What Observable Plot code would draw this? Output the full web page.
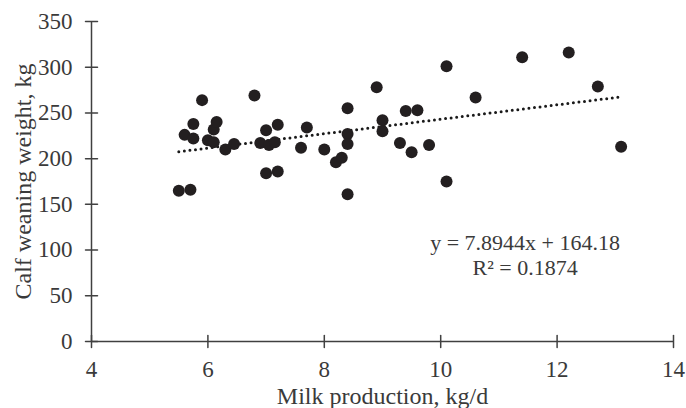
<!DOCTYPE html>
<html><head><meta charset="utf-8">
<script src="https://cdn.jsdelivr.net/npm/d3@7"></script>
<script src="https://cdn.jsdelivr.net/npm/@observablehq/plot@0.6"></script>
<style>
body{margin:0;background:#fff;}
#chart svg{overflow:visible;font-family:"Liberation Serif","Times New Roman",serif;}
</style>
</head><body><div id="chart"></div>
<script>
// Milk production (kg/d) and calf weaning weight (kg)
const milk = [5.5, 5.7, 5.6, 5.75, 5.75, 5.9, 6.0, 6.1, 6.15, 6.1, 6.3, 6.45,
  6.8, 6.9, 7.0, 7.05, 7.15, 7.2, 7.0, 7.2, 7.6, 7.7, 8.0, 8.2, 8.3,
  8.4, 8.4, 8.4, 8.4, 8.9, 9.0, 9.0, 9.3, 9.4, 9.6, 9.5, 9.8,
  10.1, 10.1, 10.6, 11.4, 12.2, 12.7, 13.1];
const weight = [165, 166, 226, 238, 222, 264, 220, 232, 240, 218, 210, 216,
  269, 217, 231, 215, 218, 237, 184, 186, 212, 234, 210, 196, 201,
  255, 227, 216, 161, 278, 242, 230, 217, 252, 253, 207, 215,
  301, 175, 267, 311, 316, 279, 213];
const xTicks = [4, 6, 8, 10, 12, 14];
const yTicks = [0, 50, 100, 150, 200, 250, 300, 350];
const slope = 7.8944, intercept = 164.18;
const eqLines = ["y = 7.8944x + 164.18", "R² = 0.1874"];
const xTitle = "Milk production, kg/d";
const yTitle = "Calf weaning weight, kg";

const data = milk.map((x, i) => ({x, y: weight[i]}));
const trend = d3.extent(milk).map(x => ({x, y: slope * x + intercept}));

const axisColor = "#404040";
const textColor = "#3a3a3a";

const chart = Plot.plot({
  width: 686,
  height: 408,
  marginLeft: 91,
  marginRight: 13,
  marginTop: 21,
  marginBottom: 67,
  style: {fontFamily: "'Liberation Serif', 'Times New Roman', serif", fontSize: "22px", color: textColor, background: "#fff"},
  x: {domain: [4, 14], ticks: xTicks},
  y: {domain: [0, 350], ticks: yTicks},
  marks: [
    Plot.ruleX([4], {stroke: axisColor, strokeWidth: 1.5}),
    Plot.ruleY([0], {stroke: axisColor, strokeWidth: 1.5}),
    Plot.vector(yTicks, {x: 4, y: d => d, length: 12, rotate: 90, anchor: "middle", stroke: axisColor, strokeWidth: 1.5, shape: {draw(c, l) { c.moveTo(0, 0); c.lineTo(0, -l); }}}),
    Plot.vector(xTicks, {x: d => d, y: 0, length: 12, rotate: 0, anchor: "middle", stroke: axisColor, strokeWidth: 1.5, shape: {draw(c, l) { c.moveTo(0, 0); c.lineTo(0, -l); }}}),
    Plot.axisX({ticks: xTicks, tickSize: 0, tickPadding: 19, fontSize: 23, fill: textColor,
      label: xTitle, labelAnchor: "center", labelArrow: "none", labelOffset: 62, labelFontSize: 24}),
    Plot.axisY({ticks: yTicks, tickSize: 0, tickPadding: 19, fontSize: 23, fill: textColor,
      label: yTitle, labelAnchor: "center", labelArrow: "none", labelOffset: 78}),
    Plot.line(trend, {x: "x", y: "y", stroke: "#1a1a1a", strokeWidth: 3, strokeDasharray: "0,5.6", strokeLinecap: "round"}),
    Plot.dot(data, {x: "x", y: "y", r: 6, fill: "#231f20", stroke: "none"}),
    Plot.text([eqLines.join("\n")], {x: 11.45, y: 95, text: d => d, fontSize: 22, fill: textColor, lineHeight: 1.15, textAnchor: "middle"})
  ]
});
// enlarge axis titles slightly to match reference
chart.querySelectorAll("[aria-label='x-axis label'] text, [aria-label='y-axis label'] text").forEach(t => t.setAttribute("font-size", "24"));
document.getElementById("chart").appendChild(chart);
</script>
</body></html>
